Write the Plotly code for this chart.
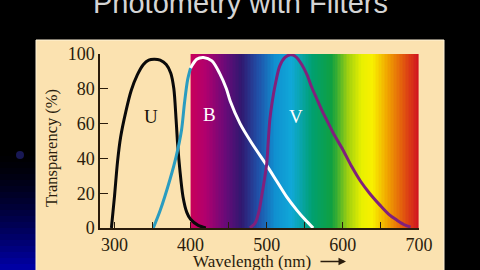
import numpy as np
import plotly.graph_objects as go

# ---- data ----
u_nm = [296, 300, 304, 308, 315, 322, 330, 338, 345, 352, 360, 368, 374, 378, 381, 383, 386, 390, 395, 400, 410, 420]
u_pct = [0, 18, 38, 52, 67, 79, 88, 94, 96.5, 97, 96.5, 94, 89, 80, 62, 48, 33, 18, 9, 5, 1.5, 0]

b_nm = [351, 360, 373, 381, 388, 392, 396, 400, 408, 417, 428, 438, 447, 452, 465, 480, 500, 513, 526, 540, 550, 561]
b_pct = [0, 10, 28, 41, 56, 72, 85, 92, 97, 98, 96, 89, 80, 73, 60, 49, 36, 27, 18, 10, 5, 0]

v_nm = [478, 485, 490, 494, 497, 500, 502, 504, 507, 511, 517, 524, 531, 538, 546, 553, 559, 565, 572, 580, 588, 600, 612, 623, 635, 649, 660, 671, 680, 689]
v_pct = [0, 3, 10, 20, 28, 37, 50, 62, 72, 82, 93, 98, 99.5, 98.5, 94, 88, 81, 75, 68, 61, 54, 45, 35, 27, 20, 13, 8, 4.5, 2, 0.5]

x_ticks = [300, 350, 400, 450, 500, 550, 600, 650, 700]
x_ticktext = ["300", "", "400", "", "500", "", "600", "", "700"]
y_ticks = [0, 20, 40, 60, 80, 100]

spectrum_nm = [400, 420, 445, 467, 489, 511, 533, 560, 586, 607, 625, 639, 660, 682, 700]
spectrum_col = ["#c8005a", "#b0006e", "#6a0a78", "#301870", "#2050a8", "#1090d0", "#10a8d8",
                "#00a070", "#10a040", "#a0d010", "#e8f000", "#f8f000", "#f0a000", "#e05010", "#d01020"]

labels = ["U", "B", "V"]
label_nm = [348, 425, 539]
label_pct = [64, 65, 64]
label_col = ["#1a1208", "#ffffff", "#ffffff"]

# ---- layout constants ----
W, H = 480, 270
L, R, T, B = 100, 61, 54, 42
PW, PH = W - L - R, H - T - B
def px(x):
    return (x - L) / PW
def py(y):
    return (H - B - y) / PH

PANEL = "#fbe2b0"
INK = "#2a1c0c"
SERIF = "Liberation Serif, Times New Roman, serif"

fig = go.Figure()

# spectrum band
edges = np.arange(400, 701, 2)
mids = (edges[:-1] + edges[1:]) / 2
cs = [[(n - 400) / 300, c] for n, c in zip(spectrum_nm, spectrum_col)]
fig.add_trace(go.Heatmap(x=edges, y=[0, 100], z=[mids], zmin=400, zmax=700,
                         colorscale=cs, showscale=False, hoverinfo="skip"))

# filter curves
fig.add_trace(go.Scatter(x=u_nm, y=u_pct, mode="lines",
                         line=dict(color="#0a0a0a", width=3, shape="spline", smoothing=0.8)))
i400 = b_nm.index(400)
fig.add_trace(go.Scatter(x=b_nm[:i400 + 1], y=b_pct[:i400 + 1], mode="lines",
                         line=dict(color="#2a9cc0", width=3, shape="spline", smoothing=0.8)))
fig.add_trace(go.Scatter(x=b_nm[i400:], y=b_pct[i400:], mode="lines",
                         line=dict(color="#ffffff", width=3, shape="spline", smoothing=0.8)))
fig.add_trace(go.Scatter(x=v_nm, y=v_pct, mode="lines",
                         line=dict(color="#80207c", width=3, shape="spline", smoothing=0.8)))

shapes = []
# left background gradient
for k in range(20):
    y0 = 150 + k * 6
    t = (k + 0.5) / 20
    bl = int(170 * t ** 1.5)
    shapes.append(dict(type="rect", xref="paper", yref="paper", layer="below",
                       x0=px(0), x1=px(37), y0=py(y0 + 6.5), y1=py(y0),
                       fillcolor=f"rgb(0,0,{bl})", line=dict(width=0)))
shapes.append(dict(type="circle", xref="paper", yref="paper", layer="below",
                   x0=px(16), x1=px(24), y0=py(159), y1=py(151),
                   fillcolor="rgba(40,40,140,0.6)", line=dict(width=0)))
# beige panel
shapes.append(dict(type="rect", xref="paper", yref="paper", layer="below",
                   x0=px(36), x1=px(444), y0=py(275), y1=py(40),
                   fillcolor=PANEL, line=dict(color="#fff3d8", width=1)))

ann = []
ann.append(dict(text="Photometry with Filters", xref="paper", yref="paper",
                x=px(240), y=py(3), xanchor="center", yanchor="middle", showarrow=False,
                font=dict(family="Liberation Sans, Arial, sans-serif", size=29, color="#d4d4d4")))
for t_, xn, yp, c in zip(labels, label_nm, label_pct, label_col):
    ann.append(dict(text=t_, x=xn, y=yp, xref="x", yref="y", showarrow=False,
                    xanchor="center", yanchor="middle",
                    font=dict(family=SERIF, size=19, color=c)))
ann.append(dict(text="Transparency (%)", xref="paper", yref="paper", x=px(51), y=py(148),
                xanchor="center", yanchor="middle",
                textangle=-90, showarrow=False, font=dict(family=SERIF, size=16.5, color=INK)))
ann.append(dict(text="Wavelength (nm)", xref="paper", yref="paper", x=px(251.5), y=py(261),
                xanchor="center", yanchor="middle", borderpad=0,
                showarrow=False, font=dict(family=SERIF, size=17, color=INK)))
ann.append(dict(text="", xref="paper", yref="paper", x=px(346), y=py(261.5), ax=-27, ay=0,
                showarrow=True, arrowhead=2, arrowsize=1, arrowwidth=1.5, arrowcolor=INK))

fig.update_layout(
    width=W, height=H, margin=dict(l=L, r=R, t=T, b=B),
    paper_bgcolor="#000000", plot_bgcolor=PANEL, showlegend=False,
    shapes=shapes, annotations=ann,
    xaxis=dict(range=[281, 700], tickvals=x_ticks, ticktext=x_ticktext, ticks="inside",
               ticklen=6, tickwidth=1.2, tickcolor=INK, showgrid=False, zeroline=False,
               showline=True, linecolor=INK, linewidth=1.5, ticklabelstandoff=0,
               tickfont=dict(family=SERIF, size=18, color=INK)),
    yaxis=dict(range=[0, 100], tickvals=y_ticks, ticks="inside", ticklen=8, tickwidth=1.2,
               tickcolor=INK, showgrid=False, zeroline=False, showline=True,
               linecolor=INK, linewidth=1.5,
               tickfont=dict(family=SERIF, size=18, color=INK)),
)

fig.write_html("out.html")
